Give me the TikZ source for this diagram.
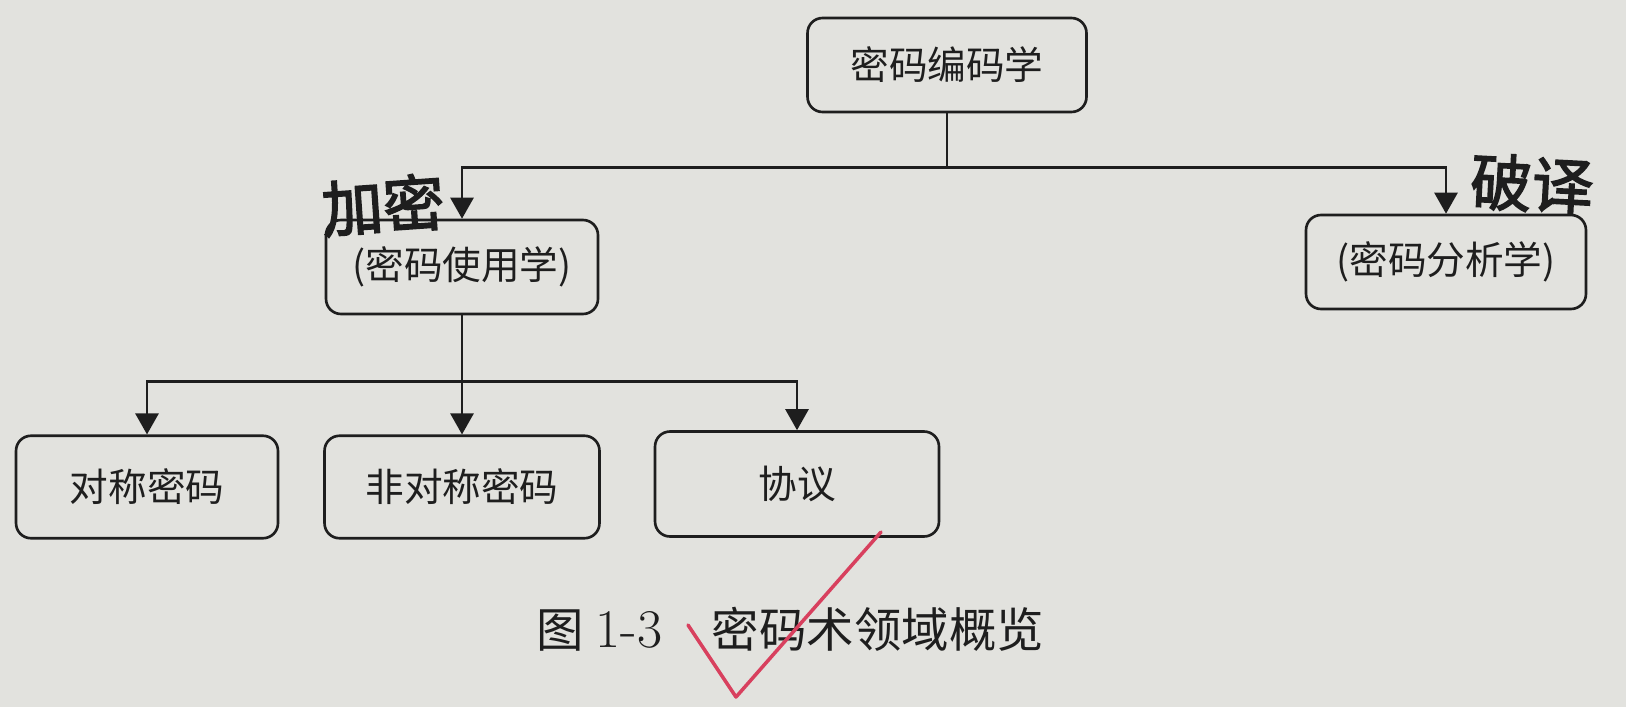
\documentclass[tikz,border=0pt]{standalone}
\usepackage{fontspec}
\usepackage{xcolor}
\usepackage{tikz}
\usetikzlibrary{arrows.meta}
\newfontfamily\cjk{Noto Sans CJK SC}
\newfontfamily\cjkhand[FakeBold=2.5]{Noto Sans CJK SC}
\definecolor{paper}{RGB}{226,226,222}
\definecolor{ink}{HTML}{1E1E1E}
\definecolor{pen}{HTML}{D8405E}

\begin{document}
\begin{tikzpicture}[x=0.02cm,y=-0.02cm,>={Triangle[width=0.46cm,length=0.42cm]},
  box/.style={draw=ink,line width=1.5pt,rounded corners=0.3cm,text=ink,font=\cjk\fontsize{22}{26}\selectfont},
  link/.style={draw=ink,line width=1.5pt},
  hand/.style={text=ink,font=\cjkhand\fontsize{35}{36}\selectfont}]
  \fill[paper] (0,0) rectangle (1626,707);
  \useasboundingbox (0,0) rectangle (1626,707);
  % top level
  \node[box,minimum width=5.58cm,minimum height=1.88cm] (crypto) at (947,65) {密码编码学};
  \node[box,minimum width=5.44cm,minimum height=1.88cm] (usage) at (462,267) {(密码使用学)};
  \node[box,minimum width=5.6cm,minimum height=1.88cm] (analysis) at (1446,262) {(密码分析学)};
  % bottom row
  \node[box,minimum width=5.24cm,minimum height=2.05cm] (sym) at (147,487) {对称密码};
  \node[box,minimum width=5.5cm,minimum height=2.05cm] (asym) at (462,487) {非对称密码};
  \node[box,minimum width=5.68cm,minimum height=2.1cm] (proto) at (797,484) {协议};
  % connectors
  \draw[link] (crypto.south) -- ++(0,54) coordinate (fork);
  \draw[link,->] (fork) -| (usage.north);
  \draw[link,->] (fork) -| (analysis.north);
  \draw[link] (usage.south) -- ++(0,66) coordinate (fork2);
  \draw[link,->] (fork2) -| (sym.north);
  \draw[link,->] (fork2) -- (asym.north);
  \draw[link,->] (fork2) -| (proto.north);
  % caption and notes
  \node[anchor=west,inner sep=0pt,text=ink,font=\cjk\fontsize{27}{30}\selectfont] (caption) at (536,629)
    {图\hspace{0.25em}{\rmfamily\fontsize{31}{30}\selectfont 1-3}\hspace{1.05em}密码术领域概览};
  \node[hand,rotate=4] (enc) at (383,205) {加密};
  \node[hand,rotate=-3] (dec) at (1532,184) {破译};
  \draw[pen,line width=2pt,line join=round,line cap=round] (688,625) -- (736,697) -- (881,532);
\end{tikzpicture}
\end{document}
